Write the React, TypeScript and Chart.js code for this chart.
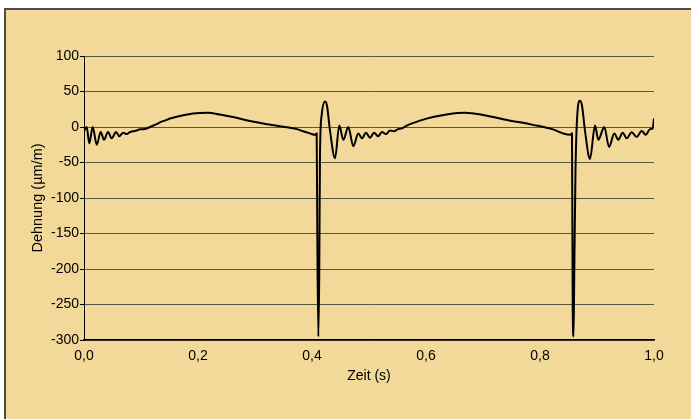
import React, { useEffect, useRef } from "react";
import { Chart, registerables } from "chart.js";

Chart.register(...registerables);

// Time (s)
const timeValues: number[] = [
  0.0, 0.0047, 0.0093, 0.0153, 0.0223, 0.0293, 0.0351, 0.0421, 0.0486, 0.0561,
  0.0619, 0.0689, 0.0749, 0.0807, 0.086, 0.0925, 0.0982, 0.1035, 0.11, 0.1158,
  0.1275, 0.1333, 0.1451, 0.1509, 0.1737, 0.1912, 0.2175, 0.2386, 0.2614, 0.2912,
  0.3211, 0.3491, 0.3737, 0.3842, 0.3965, 0.4053, 0.4082, 0.4093, 0.4111, 0.4128,
  0.414, 0.417, 0.4228, 0.4263, 0.4316, 0.4404, 0.4479, 0.4549, 0.4637, 0.4725,
  0.4812, 0.4877, 0.4947, 0.5018, 0.5088, 0.5158, 0.5228, 0.5298, 0.5368, 0.5439,
  0.5509, 0.5579, 0.5619, 0.5719, 0.5895, 0.6123, 0.6386, 0.6684, 0.7, 0.7421,
  0.7877, 0.8228, 0.8404, 0.8526, 0.8561, 0.8574, 0.8588, 0.8602, 0.8623, 0.8649,
  0.8702, 0.8737, 0.8789, 0.8877, 0.8965, 0.9023, 0.9128, 0.9211, 0.9304, 0.9374,
  0.9451, 0.9521, 0.9609, 0.9696, 0.9784, 0.9854, 0.993, 0.9977, 1.0,
];

// Dehnung (µm/m)
const strainValues: number[] = [
  -6, 0, -23, 0, -25, -7, -18, -7, -16, -7,
  -13, -8, -10, -7, -6, -5, -3, -3, -2, 0,
  4, 6.5, 10, 12, 16.5, 19, 20, 17.5, 14, 8.5,
  4, 0.5, -3, -6, -9, -11, -9, -150, -295, -200,
  -40, 17, 36, 30, -5, -44, 2, -18, 0, -27,
  -9, -16, -8, -15, -8, -13, -7, -10, -5, -6,
  -3, -2, 0, 4, 9, 14, 18, 20, 17, 10,
  3, -3.4, -9, -11, -9, -254, -295, -200, -60, 10,
  37, 30, -5, -45, 2, -18, 0, -28, -9, -18,
  -8, -16, -7.5, -14, -5.6, -11, -3, -2, 12,
];

const xTickStep = 0.2;
const yTickStep = 50;
const xAxisTitle = "Zeit (s)";
const yAxisTitle = "Dehnung (µm/m)";

const FONT = "'Liberation Sans', Arial, sans-serif";

export default function App() {
  const canvasRef = useRef<HTMLCanvasElement | null>(null);

  useEffect(() => {
    document.body.style.margin = "0";
    const canvas = canvasRef.current;
    if (!canvas) return;
    const points = timeValues.map((t, i) => ({ x: t, y: strainValues[i] }));
    const chart = new Chart(canvas, {
      type: "line",
      data: {
        datasets: [
          {
            data: points,
            borderColor: "#000000",
            borderWidth: 2,
            pointRadius: 0,
            cubicInterpolationMode: "monotone",
            fill: false,
          },
        ],
      },
      options: {
        animation: false,
        responsive: false,
        maintainAspectRatio: false,
        layout: { padding: { left: 0, right: 37, top: 56, bottom: 0 } },
        plugins: { legend: { display: false }, tooltip: { enabled: false } },
        scales: {
          x: {
            type: "linear",
            min: 0,
            max: 1,
            afterFit: (s: any) => {
              s.height = 79;
            },
            ticks: {
              stepSize: xTickStep,
              color: "#000",
              padding: 8,
              maxRotation: 0,
              font: { family: FONT, size: 14 },
              callback: (v: any) => Number(v).toFixed(1).replace(".", ","),
            },
            grid: { display: false, drawTicks: false },
            border: { display: true, color: "#000", width: 1.5 },
            title: {
              display: true,
              text: xAxisTitle,
              color: "#000",
              font: { family: FONT, size: 14 },
              padding: { top: 0, bottom: 34 },
            },
          },
          y: {
            type: "linear",
            min: -300,
            max: 100,
            afterFit: (s: any) => {
              s.width = 84;
            },
            ticks: {
              stepSize: yTickStep,
              color: "#000",
              padding: 1,
              font: { family: FONT, size: 14 },
            },
            grid: {
              color: "#5a5446",
              lineWidth: 1,
              tickLength: 4,
              tickColor: "#000",
            },
            border: { display: true, color: "#000", width: 1 },
            title: {
              display: true,
              text: yAxisTitle,
              color: "#000",
              font: { family: FONT, size: 14.5 },
              padding: { top: 29, bottom: 0 },
            },
          },
        },
      },
    });
    return () => chart.destroy();
  }, []);

  return (
    <div style={{ position: "relative", width: 691, height: 419, overflow: "hidden", background: "#ffffff" }}>
      <div
        style={{
          position: "absolute",
          left: 4,
          top: 8,
          width: 720,
          height: 440,
          background: "#F2D899",
          border: "2px solid #4c4c4c",
          boxSizing: "border-box",
        }}
      />
      <canvas
        ref={canvasRef}
        width={691}
        height={419}
        style={{ position: "absolute", left: 0, top: 0, width: 691, height: 419 }}
      />
    </div>
  );
}
